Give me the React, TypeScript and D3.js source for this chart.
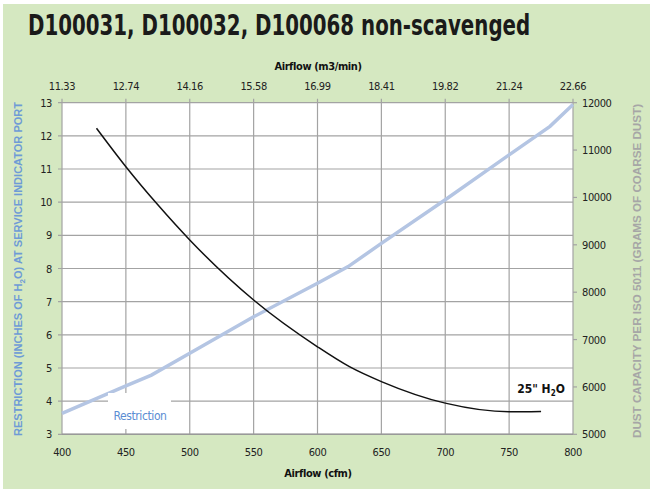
import React, { useLayoutEffect, useRef, useState } from "react";
import * as d3 from "d3";

const cfmTicks = [400, 450, 500, 550, 600, 650, 700, 750, 800];
const m3Labels = ["11.33", "12.74", "14.16", "15.58", "16.99", "18.41", "19.82", "21.24", "22.66"];
const leftTicks = [3, 4, 5, 6, 7, 8, 9, 10, 11, 12, 13];
const rightTicks = [5000, 6000, 7000, 8000, 9000, 10000, 11000, 12000];

const restrictionCfm = [427, 450, 475, 500, 550, 600, 625, 650, 700, 750, 775];
const restrictionH2O = [12.23, 11.07, 9.92, 8.86, 7.05, 5.64, 5.04, 4.59, 3.94, 3.68, 3.69];

const dustCfm = [400, 450, 470, 500, 550, 600, 624, 650, 700, 750, 782, 800];
const dustGrams = [5440, 6020, 6250, 6710, 7480, 8190, 8540, 9030, 9950, 10900, 11500, 11960];

const TITLE = "D100031, D100032, D100068 non-scavenged";
const FONT = "'Liberation Sans Narrow', 'DejaVu Sans Condensed', 'Arial Narrow', Arial, sans-serif";
const FONT_B = "'Liberation Sans', Arial, sans-serif";

export default function App() {
  const W = 650, H = 493;
  const x = d3.scaleLinear().domain([400, 800]).range([62, 573]);
  const yL = d3.scaleLinear().domain([3, 13]).range([434.3, 102.7]);
  const yR = d3.scaleLinear().domain([5000, 12000]).range([434.3, 102.7]);

  const titleRef = useRef<SVGTextElement>(null);
  const [sx, setSx] = useState(0.83);
  useLayoutEffect(() => {
    if (titleRef.current) {
      const len = titleRef.current.getComputedTextLength();
      if (len > 0) setSx(502 / len);
    }
  }, []);

  const restr = restrictionCfm.map((c, i) => [c, restrictionH2O[i]] as [number, number]);
  const dust = dustCfm.map((c, i) => [c, dustGrams[i]] as [number, number]);

  const blackLine = d3.line<[number, number]>().x(d => x(d[0])).y(d => yL(d[1])).curve(d3.curveMonotoneX)(restr) || "";
  const blueLine = d3.line<[number, number]>().x(d => x(d[0])).y(d => yR(d[1]))(dust) || "";

  const grid = "#a3a3a3";
  const [x0, x1] = x.range();
  const yTop = yL(13), yBot = yL(3);
  const tickStyle = { letterSpacing: "-0.4px" };

  return (
    <div style={{ position: "absolute", left: 0, top: 0, width: W, height: H }}>
      <svg width={W} height={H} style={{ display: "block" }}>
        <rect x={0} y={0} width={W} height={H} fill="#ffffff" />
        <rect x={3} y={4} width={W - 3} height={485} fill="#d5e8c1" />
        <g transform={`translate(28,35) scale(${sx},1)`}>
          <text ref={titleRef} x={0} y={0} fontFamily={FONT} fontWeight="bold" fontSize={29} fill="#1a1a1a">{TITLE}</text>
        </g>

        <rect x={x0} y={yTop} width={x1 - x0} height={yBot - yTop} fill="#ffffff" />
        {leftTicks.map(t => (
          <line key={"h" + t} x1={x0 - 4} x2={x1} y1={yL(t)} y2={yL(t)} stroke={grid} strokeWidth={1.2} />
        ))}
        {rightTicks.map(t => (
          <line key={"r" + t} x1={x1} x2={x1 + 4} y1={yR(t)} y2={yR(t)} stroke={grid} strokeWidth={1.2} />
        ))}
        {cfmTicks.map(t => (
          <line key={"v" + t} x1={x(t)} x2={x(t)} y1={yTop - 4} y2={yBot} stroke={grid} strokeWidth={1.2} />
        ))}
        <line x1={x0} x2={x1} y1={yBot} y2={yBot} stroke="#999" strokeWidth={1.5} />

        <path d={blueLine} fill="none" stroke="#b4c5e3" strokeWidth={3.5} />
        <path d={blackLine} fill="none" stroke="#111" strokeWidth={1.5} />

        <rect x={108} y={393} width={63} height={36} fill="#ffffff" />
        <text x={140} y={420} textAnchor="middle" fontFamily={FONT} fontSize={12} fill="#5b8dd3" style={tickStyle}>Restriction</text>

        <text x={541} y={393} textAnchor="middle" fontFamily={FONT} fontWeight="bold" fontSize={12} fill="#111">
          25" H<tspan fontSize={8} dy={3}>2</tspan><tspan dy={-3}>O</tspan>
        </text>

        {leftTicks.map(t => (
          <text key={"lt" + t} x={52} y={yL(t) + 4} textAnchor="end" fontFamily={FONT} fontSize={11} fill="#222" style={tickStyle}>{t}</text>
        ))}
        {rightTicks.map(t => (
          <text key={"rt" + t} x={582} y={yR(t) + 4} textAnchor="start" fontFamily={FONT} fontSize={11} fill="#222" style={tickStyle}>{t}</text>
        ))}
        {cfmTicks.map(t => (
          <text key={"bt" + t} x={x(t)} y={456} textAnchor="middle" fontFamily={FONT} fontSize={11} fill="#222" style={tickStyle}>{t}</text>
        ))}
        {cfmTicks.map((t, i) => (
          <text key={"tt" + t} x={x(t)} y={90} textAnchor="middle" fontFamily={FONT} fontSize={11} fill="#222" style={tickStyle}>{m3Labels[i]}</text>
        ))}

        <text x={318} y={477} textAnchor="middle" fontFamily={FONT} fontWeight="bold" fontSize={11} fill="#111" style={tickStyle}>Airflow (cfm)</text>
        <text x={318} y={70} textAnchor="middle" fontFamily={FONT} fontWeight="bold" fontSize={11} fill="#111" style={tickStyle}>Airflow (m3/min)</text>

        <text transform="translate(22,269) rotate(-90)" textAnchor="middle" fontFamily={FONT_B} fontWeight="bold" fontSize={11} fill="#6e9bd6"
          textLength={334} lengthAdjust="spacingAndGlyphs">
          RESTRICTION (INCHES OF H<tspan fontSize={8} dy={3}>2</tspan><tspan dy={-3}>O) AT SERVICE INDICATOR PORT</tspan>
        </text>
        <text transform="translate(641,271) rotate(-90)" textAnchor="middle" fontFamily={FONT_B} fontWeight="bold" fontSize={11} fill="#a6a6a6"
          textLength={334} lengthAdjust="spacingAndGlyphs">
          DUST CAPACITY PER ISO 5011 (GRAMS OF COARSE DUST)
        </text>
      </svg>
    </div>
  );
}
